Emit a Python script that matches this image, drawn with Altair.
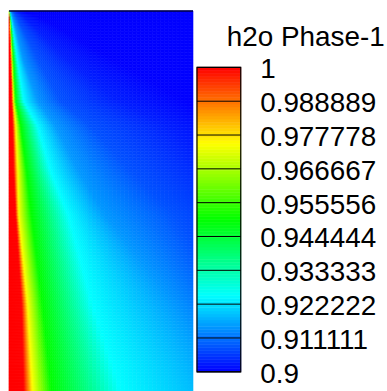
import altair as alt
import numpy as np
import pandas as pd

# ---- field ------------------------------------------------------------------
# depth below the inlet (px of the plotted domain) of the sampled rows
row_depth = [0, 11, 51, 91, 116, 161, 206, 296, 382]
# contour levels of the profile (wall -> far field)
levels = [1.0, 1.0, 0.975, 0.95, 0.925, 0.915, 0.908, 0.903, 0.9]
# distance from the left wall at which each level is reached, per sampled row
pos_d0 = [0, 0.0, 0.3, 0.6, 1, 2, 4, 8, 15]
pos_d11 = [0, 0.7, 1.2, 1.8, 3, 5, 10, 20, 40]
pos_d51 = [0, 2, 3, 4.7, 8.7, 15, 30, 60, 110]
pos_d91 = [0, 3, 4.7, 7, 15, 29, 52, 110, 180]
pos_d116 = [0, 4, 7, 12, 29, 47, 82, 160, 230]
pos_d161 = [0, 5, 9, 18, 42, 70, 122, 210, 280]
pos_d206 = [0, 7, 10, 23, 60, 97, 167, 260, 330]
pos_d296 = [0, 13, 19, 34, 84, 166, 225, 290, 350]
pos_d382 = [0, 15, 24, 43, 112, 226, 300, 380, 450]

# ---- colour bar ----------------------------------------------------------------
cb_levels = [1.0, 0.988889, 0.977778, 0.966667, 0.955556,
             0.944444, 0.933333, 0.922222, 0.911111, 0.9]
cb_labels = ["1", "0.988889", "0.977778", "0.966667", "0.955556",
             "0.944444", "0.933333", "0.922222", "0.911111", "0.9"]
cb_title = "h2o Phase-1"

color_domain = [0.9, 0.925, 0.95, 0.975, 1.0]
color_range = ["#0000ff", "#00ffff", "#00ff00", "#ffff00", "#ff0000"]

# ---- build the raster ----------------------------------------------------------
W, H = 185, 382
P = np.array([pos_d0, pos_d11, pos_d51, pos_d91, pos_d116,
              pos_d161, pos_d206, pos_d296, pos_d382], dtype=float)
xe = np.concatenate([np.arange(0, 30, 1), np.arange(30, 80, 2),
                     np.arange(80, W, 4), [W]]).astype(float)
ye = np.concatenate([np.arange(0, H, 3), [H]]).astype(float)
rows = []
for j in range(len(ye) - 1):
    d = 0.5 * (ye[j] + ye[j + 1])
    pos = np.array([np.interp(d, row_depth, P[:, k]) for k in range(P.shape[1])])
    for i in range(len(xe) - 1):
        xc = 0.5 * (xe[i] + xe[i + 1])
        v = float(np.interp(xc, pos, levels))
        rows.append((xe[i], xe[i + 1], ye[j], ye[j + 1], round(v, 5)))
field_df = pd.DataFrame(rows, columns=["x", "x2", "y", "y2", "v"])

cscale = alt.Scale(domain=color_domain, range=color_range, interpolate="rgb")

field = alt.Chart(field_df).mark_rect(strokeWidth=0.6).encode(
    x=alt.X("x:Q", scale=alt.Scale(domain=[0, W], nice=False, zero=False), axis=None),
    x2="x2:Q",
    y=alt.Y("y:Q", scale=alt.Scale(domain=[0, H], nice=False, zero=False, reverse=True), axis=None),
    y2="y2:Q",
    color=alt.Color("v:Q", scale=cscale, legend=None),
    stroke=alt.Stroke("v:Q", scale=cscale, legend=None),
)
top_line = alt.Chart(pd.DataFrame({"y": [0]})).mark_rule(color="#000040", strokeWidth=1.5).encode(
    y="y:Q", x=alt.value(0), x2=alt.value(W)
)
field_panel = alt.layer(field, top_line).properties(width=W, height=H)

# colour bar panel
cb_step = 0.001
cb_v = np.round(np.arange(0.9, 1.0, cb_step), 4)
cb_df = pd.DataFrame({"v": cb_v, "v2": np.round(cb_v + cb_step, 4),
                      "c": np.round(cb_v + cb_step / 2, 5)})
lv_df = pd.DataFrame({"v": cb_levels, "label": cb_labels})
ysc = alt.Scale(domain=[0.893693, 1.018529], nice=False, zero=False)

bar = alt.Chart(cb_df).mark_rect(strokeWidth=0.6).encode(
    x=alt.value(3), x2=alt.value(47),
    y=alt.Y("v:Q", scale=ysc, axis=None), y2="v2:Q",
    color=alt.Color("c:Q", scale=cscale, legend=None),
    stroke=alt.Stroke("c:Q", scale=cscale, legend=None),
)
seps = alt.Chart(lv_df).mark_rule(color="black", strokeWidth=1).encode(
    y=alt.Y("v:Q", scale=ysc, axis=None), x=alt.value(3), x2=alt.value(47)
)
border = alt.Chart(pd.DataFrame({"a": [cb_levels[-1]], "b": [cb_levels[0]]})).mark_rect(
    fillOpacity=0, stroke="black", strokeWidth=1.2
).encode(x=alt.value(3), x2=alt.value(47), y=alt.Y("a:Q", scale=ysc, axis=None), y2="b:Q")
labels = alt.Chart(lv_df).mark_text(
    align="left", baseline="alphabetic", dy=11, font="Liberation Sans", fontSize=28, color="black"
).encode(y=alt.Y("v:Q", scale=ysc, axis=None), x=alt.value(66.5), text="label:N")
title = alt.Chart(pd.DataFrame({"t": [cb_title]})).mark_text(
    align="left", baseline="alphabetic", font="Liberation Sans", fontSize=28, color="black"
).encode(x=alt.value(33), y=alt.value(35), text="t:N")

cb_panel = alt.layer(bar, seps, border, labels, title).properties(width=194, height=H)

chart = alt.hconcat(field_panel, cb_panel, spacing=0).properties(
    padding={"left": 8, "top": 9, "right": 0, "bottom": 0},
    background="white",
).configure_view(stroke=None)

chart.save("out.html", embed_options={"renderer": "svg", "actions": False})
